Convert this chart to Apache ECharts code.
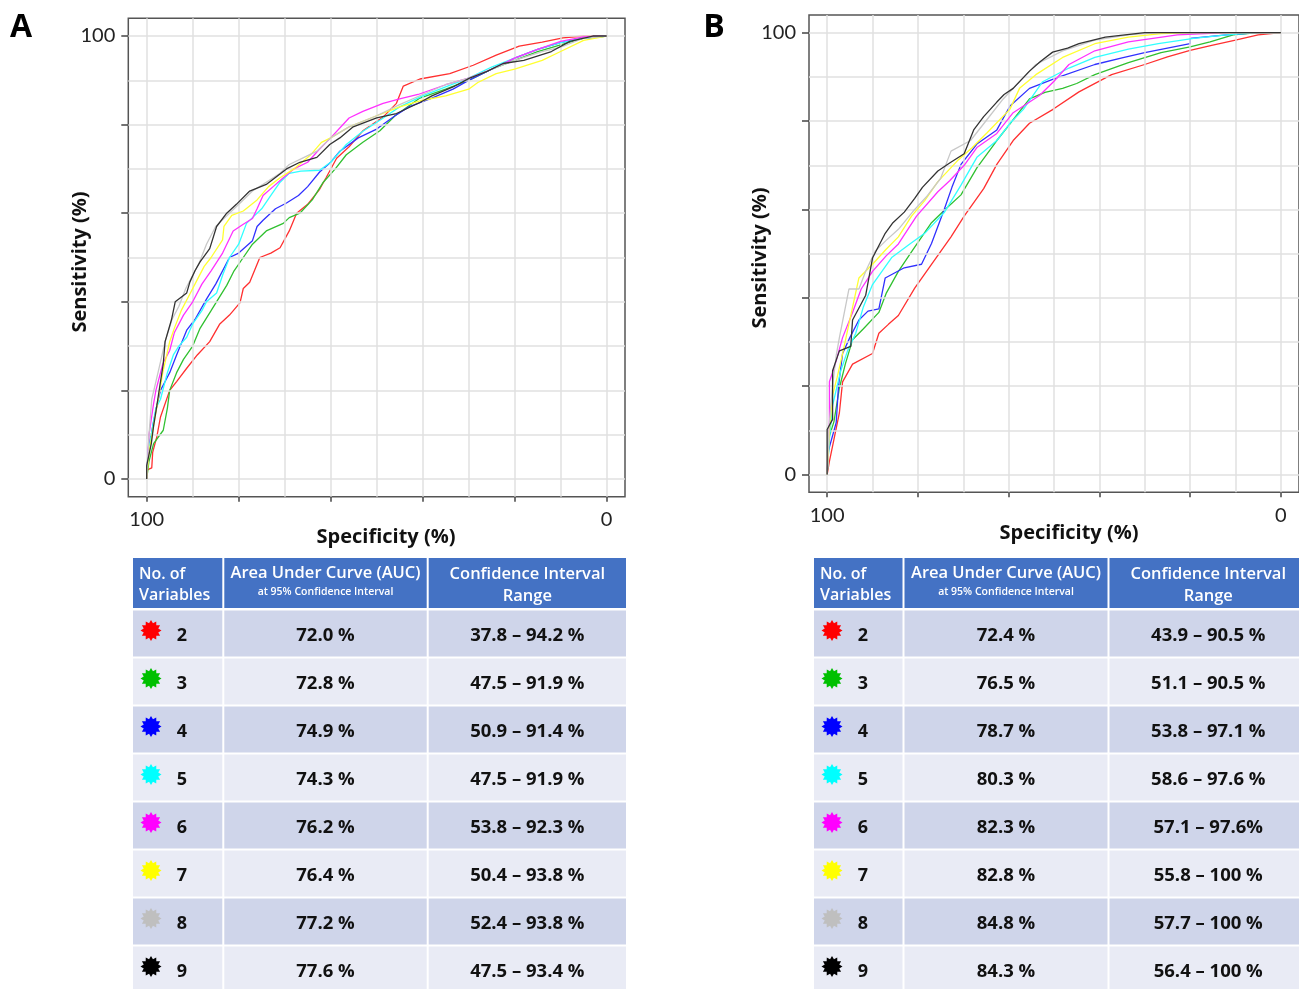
<!DOCTYPE html>
<html>
<head>
<meta charset="utf-8">
<title>ROC curves</title>
<script src="https://cdn.jsdelivr.net/npm/echarts@6.0.0/dist/echarts.min.js"></script>
<style>
  html, body { margin: 0; padding: 0; background: #fff; }
  #chart { width: 1299px; height: 989px; }
</style>
</head>
<body>
<div id="chart"></div>
<script>
// table data
var varCounts = ['2', '3', '4', '5', '6', '7', '8', '9'];
var lineColors = ['#ff3030', '#30c030', '#3030ff', '#30ffff', '#ff30ff', '#ffff30', '#c8c8c8', '#333333'];
var starColors = ['#ff0000', '#00c000', '#0000ff', '#00ffff', '#ff00ff', '#ffff00', '#bfbfbf', '#000000'];
var aucA = ['72.0 %', '72.8 %', '74.9 %', '74.3 %', '76.2 %', '76.4 %', '77.2 %', '77.6 %'];
var ciA = ['37.8 – 94.2 %', '47.5 – 91.9 %', '50.9 – 91.4 %', '47.5 – 91.9 %', '53.8 – 92.3 %', '50.4 – 93.8 %', '52.4 – 93.8 %', '47.5 – 93.4 %'];
var aucB = ['72.4 %', '76.5 %', '78.7 %', '80.3 %', '82.3 %', '82.8 %', '84.8 %', '84.3 %'];
var ciB = ['43.9 – 90.5 %', '51.1 – 90.5 %', '53.8 – 97.1 %', '58.6 – 97.6 %', '57.1 – 97.6%', '55.8 – 100 %', '57.7 – 100 %', '56.4 – 100 %'];

// axis values
var tickValues = [0, 20, 40, 60, 80, 100];
var labelValues = [0, 100];
var gridValues = [0, 10, 20, 30, 40, 50, 60, 70, 80, 90, 100];

// ROC curves, [specificity, sensitivity] -- panel A
var rocA2 = [[100,0],[100,2],[98.9,2.5],[98.7,6],[97.8,9.5],[97,14],[95,20],[93.5,22],[91.3,25],[89,28],[86.3,31],[84.1,35],[82,37],[79.7,39.8],[79,43],[77.6,44.4],[75.4,50],[73,51],[71,52.2],[69,56],[67.4,60],[65,62],[62.4,65.4],[61,68],[58.7,72.4],[56,75],[53,78.6],[48.6,81.7],[45.7,84.8],[44.2,88.7],[40.6,90.3],[34.1,91.5],[29,93.4],[24,95.7],[19,97.7],[14,98.6],[9.5,99.6],[5,100],[0,100]];
var rocA3 = [[100,0],[99.5,4],[98.5,8],[96.4,11],[95.5,16],[95,20],[93.5,24],[92,27],[90,30],[88.4,34],[86,38],[82.6,43.7],[81,47],[79,50],[77,53],[74,56],[70.3,57.7],[69,59],[66.7,60],[64,63],[61.6,67],[59,70],[56.6,73.2],[53,76],[49.3,78.6],[46,82],[40.6,86],[35,88],[30,90],[25,92.5],[20,94.5],[15,96.5],[10,98],[5,99.5],[0,100]];
var rocA4 = [[100,0],[99.7,7],[99,10],[98.5,13],[97.8,16.5],[97,20],[96,22],[95,24],[93.5,28],[91.3,33.6],[89.5,36],[87,40.6],[85,44],[82,50],[80,51],[77,53.8],[76,57],[74.7,58.4],[72,61],[69.6,62.3],[67,64],[65,66],[62.4,69.3],[60,71.5],[58,74],[54,77],[50,79],[46,82],[43,84],[38,86],[33.4,88],[30,90],[25,92.5],[20,95],[15,97],[10,98.5],[5,99.5],[0,100]];
var rocA5 = [[100,0],[99.7,6],[99,10],[98,16],[97,18],[95.5,24],[94.2,28],[93,30],[91.3,32],[90,35],[88,38],[87,40],[84.8,42],[83.5,46],[82,50],[80,53],[78.3,57.7],[77,59],[75,61],[73,64],[71,67],[69,69],[66.5,69.5],[62.4,69.7],[60,71.5],[56.6,75.5],[53,78.5],[49.3,81],[45,84],[40,86.5],[35,88.5],[30,90.5],[25,93],[20,95],[15,97],[10,98.5],[5,99.5],[0,100]];
var rocA6 = [[100,0],[99.5,10],[98.5,17],[98,20],[96.5,26],[95,29],[94,33],[92,37],[90,40],[88,44],[86,47],[83.5,51],[81.2,56],[79,57.5],[77,58.8],[76,61],[74.7,64],[72.5,66],[70.3,68],[68,70],[65,71.5],[62.4,74.5],[60,77],[56,81.5],[53,83],[48.6,84.8],[45,85.8],[41,86.8],[35,89],[30,90.5],[25,92.5],[20,95],[15,97],[10,98.8],[5,99.8],[0,100]];
var rocA7 = [[100,0],[99.5,6],[98.5,12],[97.5,18],[96.5,24],[95,31],[94,34],[92.5,38],[90.5,42],[89,45],[87.5,48],[86,50],[83.5,54],[83.2,57],[81.5,59.5],[79,60.5],[76,63],[73.5,66],[71,68],[68,70],[64.5,73],[62,76],[60,77],[56,79.5],[50,82],[45,84],[40,85.5],[35,86.5],[30,88],[28,89.5],[24,91.5],[20,92.5],[14,94.5],[10,96.5],[5,99],[0,100]];
var rocA8 = [[100,0],[99.5,10],[98.9,18],[98,22],[97.1,26],[96,31],[94.5,36],[93,39],[91.5,43],[90,46],[88.5,49],[87,53],[85,57],[83,59],[81,61],[79,63],[77,65],[74,67],[71,69],[69,71],[66,72.5],[63,74],[60,77],[56,79.5],[50,82],[45,84.5],[40,86.8],[35,89],[30,90.5],[25,92.5],[20,94.5],[14,96.5],[10,97.5],[5,99.5],[0,100]];
var rocA9 = [[100,0],[100,3],[99,8],[98.5,12],[97.8,16.5],[97,22],[96.4,26],[96,31],[94.6,36],[93.8,40],[91.3,42],[90.6,44.5],[89.5,47],[88.4,49],[86.3,52],[84.8,57],[82.6,60],[80.5,62],[77.6,65],[74,66.5],[69.6,70],[66.7,71.5],[63,72.6],[60.2,75.5],[58,77],[55.1,79.5],[50,81.5],[45.7,82.5],[40.6,85],[38,86.5],[33.4,88.5],[29.8,90.5],[26,92],[22.5,93.8],[18,94.5],[12,96.5],[8,98.8],[3,100],[0,100]];

// panel B
var rocB2 = [[100,0],[99.5,3],[98.5,8],[97.3,14],[96.6,21],[94.4,25],[90,27.4],[88.6,32],[86.5,34],[84.3,36],[80.7,42.2],[77,47.6],[72.7,53.8],[69.8,58.5],[65.5,64.7],[62.6,70.2],[59,75.6],[55.4,79.5],[50.3,82.6],[44.5,86.6],[37.3,90.5],[30,92.8],[25,94.5],[20,96],[15,97.2],[10,98.3],[5,99.5],[0,100]];
var rocB3 = [[100,0],[99.5,8.7],[98.5,12],[97.3,19.6],[96,25],[94.4,30.5],[92,33],[88.6,36.7],[87,41],[84.3,46],[81,51],[77,57],[74,60],[70.5,63.3],[67,69.4],[62.6,75.6],[59,80.3],[55.4,85],[52,86.5],[48.1,87.4],[45,88.5],[41,90.5],[33.6,93.2],[26.4,95.5],[20,96.8],[15.6,97.9],[10.5,99.5],[5,100],[0,100]];
var rocB4 = [[100,0],[99.7,5.5],[98,11.8],[97.5,20],[96.6,27.4],[95,31],[93,35],[91,37],[88.6,37.5],[87.2,44.5],[83,46.8],[79.2,47.6],[77,52.3],[74.2,60],[72.5,65],[70.5,70.2],[67,74.8],[62.6,78],[59.7,83.4],[55.4,87.4],[49.6,89.7],[41,92.8],[35,94.3],[30,95.5],[20,97.5],[20,98.7],[12,99.5],[5,100],[0,100]];
var rocB5 = [[100,0],[99.5,8],[98.8,15.7],[97,23.5],[95.5,28],[93.7,32],[92,38],[90,43],[85.7,49.2],[82,52],[78.5,54.6],[74.2,59.3],[70.5,65.5],[67,71.8],[62.6,75.6],[59.7,79.5],[56.8,82.6],[52.5,88.9],[46.7,92],[41,94.4],[33.6,96.3],[27,97.5],[19.2,98.7],[12,99.5],[5,100],[0,100]];
var rocB6 = [[100,0],[99.5,12],[99.5,21],[98.5,24],[96.6,31],[94.4,36.7],[92.5,42],[90,46],[87,49.5],[84.3,52.2],[80.3,58.5],[75.6,64],[73,66.5],[69.8,70],[67,74],[62.6,77.2],[59,81.9],[53.2,85.8],[50,89],[46.7,92.8],[41,95.9],[33.6,97.9],[22.8,99.5],[12,100],[0,100]];
var rocB7 = [[100,0],[99.5,10],[98.8,18],[97.8,22],[96.6,27.4],[95,35],[93,44.5],[90,47.6],[87,51],[84.3,53.8],[81.4,58.5],[78.5,62],[75.6,66.3],[71.3,71],[68,74],[64.8,77.3],[59.7,82.7],[57.6,87.4],[54,90.5],[48.1,94.4],[41,97.5],[33.6,99],[26.4,99.8],[20,100],[0,100]];
var rocB8 = [[100,0],[99.5,12],[98.8,20],[98,27],[97.3,31],[95.2,42],[93,42],[91.5,46],[89.4,50.6],[87,53],[84.3,55.5],[80.7,60],[78,63],[75,67],[72.7,73.2],[68.4,75.6],[64.8,80.3],[61.2,85],[58,88.5],[54,92.8],[48.1,95.9],[41,98.3],[33.6,99.5],[27,100],[0,100]];
var rocB9 = [[100,0],[100,10.2],[98.8,12.5],[98.8,23.5],[97.3,28],[94.8,29],[94.4,35],[91.5,40.6],[90,49],[87.2,54.6],[85.5,57],[83,59.4],[80.7,62.5],[79,65],[75.6,68.7],[73,70.5],[69.8,72.6],[67.7,78],[65.5,81],[62.6,84.3],[61,86],[59,87.4],[55.4,91.3],[53,93.5],[50.3,95.6],[47,96.5],[44.5,97.5],[38.7,99],[30,100],[0,100]];

var rocA = [rocA2, rocA3, rocA4, rocA5, rocA6, rocA7, rocA8, rocA9];
var rocB = [rocB2, rocB3, rocB4, rocB5, rocB6, rocB7, rocB8, rocB9];

var chart = echarts.init(document.getElementById('chart'));

var LIGHT = 'Lato, "Open Sans", sans-serif';
var BOLD = '"Open Sans", "Noto Sans", sans-serif';

function makeXAxis(i) {
  return {
    type: 'value', gridIndex: i, min: -4, max: 104, inverse: true,
    axisLine: { show: false, onZero: false },
    axisTick: { show: true, customValues: tickValues, length: 5, lineStyle: { color: '#444', width: 1.5 } },
    axisLabel: { customValues: labelValues, margin: 13, fontSize: 20, color: '#222', fontFamily: LIGHT },
    splitLine: { show: false }
  };
}

function makeYAxis(i) {
  return {
    type: 'value', gridIndex: i, min: -4, max: 104,
    axisLine: { show: false, onZero: false },
    axisTick: { show: true, customValues: tickValues, length: 7, lineStyle: { color: '#444', width: 1.5 } },
    axisLabel: { customValues: labelValues, margin: 13, fontSize: 20, color: '#222', fontFamily: LIGHT },
    splitLine: { show: false }
  };
}

function gridSeries(i) {
  var lines = [];
  gridValues.forEach(function (v) { lines.push({ xAxis: v }); });
  gridValues.forEach(function (v) { lines.push({ yAxis: v }); });
  return {
    type: 'line', xAxisIndex: i, yAxisIndex: i, data: [], silent: true, z: 1,
    animation: false,
    markLine: {
      silent: true, animation: false,
      symbol: ['none', 'none'],
      label: { show: false },
      emphasis: { disabled: true },
      lineStyle: { color: '#e0e0e0', width: 1.5, type: 'solid' },
      data: lines
    }
  };
}

function rocSeries(curves, i) {
  return curves.map(function (pts, k) {
    return {
      type: 'line', name: varCounts[k], xAxisIndex: i, yAxisIndex: i,
      data: pts, showSymbol: false, symbol: 'none', z: 2 + k,
      animation: false, silent: true,
      lineStyle: { color: lineColors[k], width: 1.3 }
    };
  });
}

function starPoints(cx, cy, ro, ri, n) {
  var pts = [];
  for (var k = 0; k < 2 * n; k++) {
    var r = k % 2 ? ri : ro;
    var a = Math.PI * k / n - Math.PI / 2;
    pts.push([cx + r * Math.cos(a), cy + r * Math.sin(a)]);
  }
  return pts;
}

function txt(x, y, s, size, weight, color, align, rot, family) {
  return {
    type: 'text', x: x, y: y, rotation: rot || 0, silent: true,
    style: {
      text: s, fill: color, fontSize: size, fontWeight: weight, fontFamily: family || BOLD,
      align: align || 'center', verticalAlign: 'middle',
      textAlign: align || 'center', textVerticalAlign: 'middle'
    }
  };
}

function buildTable(cols, auc, ci) {
  var els = [];
  var headTop = 558, headH = 50;
  for (var c = 0; c < 3; c++) {
    els.push({ type: 'rect', silent: true,
      shape: { x: cols[c] + 1, y: headTop, width: cols[c + 1] - cols[c] - 2, height: headH },
      style: { fill: '#4472c4' } });
  }
  els.push(txt(cols[0] + 7, 574, 'No. of', 16, 600, '#fff', 'left'));
  els.push(txt(cols[0] + 7, 595, 'Variables', 16, 600, '#fff', 'left'));
  var c2 = (cols[1] + cols[2]) / 2, c3 = (cols[2] + cols[3]) / 2;
  els.push(txt(c2, 573, 'Area Under Curve (AUC)', 16.5, 600, '#fff'));
  els.push(txt(c2, 592, 'at 95% Confidence Interval', 10.5, 600, '#fff'));
  els.push(txt(c3, 574, 'Confidence Interval', 16.5, 600, '#fff'));
  els.push(txt(c3, 596, 'Range', 16.5, 600, '#fff'));

  for (var i = 0; i < varCounts.length; i++) {
    var top = 610.5 + 48 * i;
    var fill = i % 2 === 0 ? '#cfd5ea' : '#e9ebf5';
    for (var c = 0; c < 3; c++) {
      els.push({ type: 'rect', silent: true,
        shape: { x: cols[c] + 1, y: top, width: cols[c + 1] - cols[c] - 2, height: 46 },
        style: { fill: fill } });
    }
    els.push({ type: 'polygon', silent: true,
      shape: { points: starPoints(cols[0] + 19, top + 20, 10.5, 7.5, 12) },
      style: { fill: starColors[i] } });
    els.push(txt(cols[0] + 50, top + 25, varCounts[i], 18, 'bold', '#111'));
    els.push(txt(c2, top + 25, auc[i], 18.5, 'bold', '#111'));
    els.push(txt(c3, top + 25, ci[i], 18.5, 'bold', '#111'));
  }
  return els;
}

var graphics = [
  txt(21, 28, 'A', 32, 'bold', '#000'),
  txt(714, 28, 'B', 32, 'bold', '#000'),
  txt(80, 262, 'Sensitivity (%)', 20, 'bold', '#111', 'center', Math.PI / 2),
  txt(386, 537, 'Specificity (%)', 20, 'bold', '#111'),
  txt(760, 258, 'Sensitivity (%)', 20, 'bold', '#111', 'center', Math.PI / 2),
  txt(1069, 533, 'Specificity (%)', 20, 'bold', '#111')
].concat(buildTable([132, 223.3, 427.7, 627], aucA, ciA))
 .concat(buildTable([813, 903.5, 1108.5, 1308], aucB, ciB));

chart.setOption({
  backgroundColor: '#fff',
  animation: false,
  grid: [
    { left: 128.3, top: 18.3, width: 496.7, height: 478.4, show: true, borderColor: '#555', borderWidth: 1.5, backgroundColor: '#fff' },
    { left: 809, top: 15, width: 497, height: 477.3, show: true, borderColor: '#555', borderWidth: 1.5, backgroundColor: '#fff' }
  ],
  xAxis: [makeXAxis(0), makeXAxis(1)],
  yAxis: [makeYAxis(0), makeYAxis(1)],
  series: [gridSeries(0), gridSeries(1)]
    .concat(rocSeries(rocA, 0))
    .concat(rocSeries(rocB, 1)),
  graphic: { elements: graphics }
});
</script>
</body>
</html>
